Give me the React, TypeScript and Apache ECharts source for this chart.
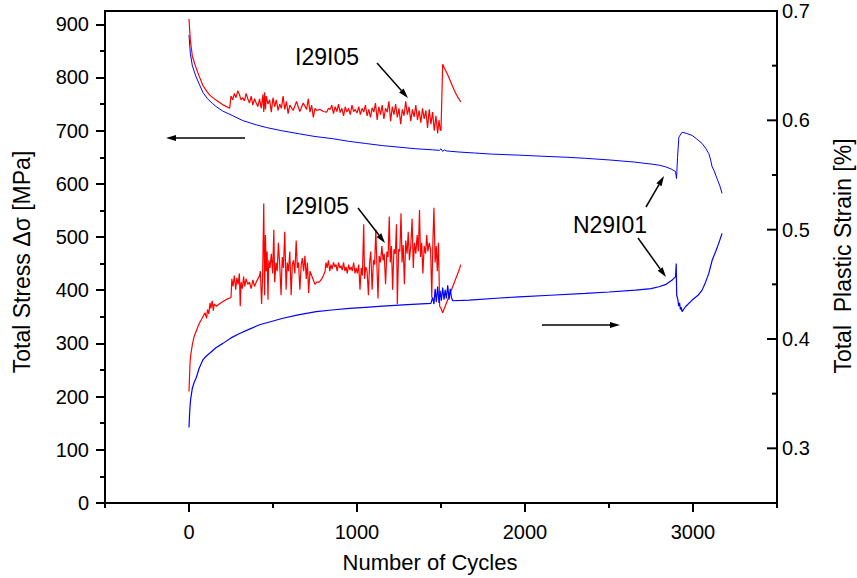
import React, { useEffect, useRef } from "react";
import * as echarts from "echarts";

// ---- tick values ----
const X_MAJOR = [0, 1000, 2000, 3000];
const X_MINOR = [-500, 500, 1500, 2500, 3500];
const YL_MAJOR = [0, 100, 200, 300, 400, 500, 600, 700, 800, 900];
const YL_MINOR = [50, 150, 250, 350, 450, 550, 650, 750, 850];
const YR_MAJOR = [0.3, 0.4, 0.5, 0.6, 0.7];
const YR_MINOR = [0.35, 0.45, 0.55, 0.65];

// ---- I29I05 total stress [MPa] ----
const I29I05_STRESS: number[][] = [
  [0, 910], [8, 870], [20, 840], [40, 820], [60, 803], [83, 785], [110, 772], [130, 765], [163, 757], [200, 749], [242, 742],
  [250, 765], [260, 758], [270, 770], [280, 762], [290, 775], [300, 768], [310, 758], [320, 762], [330, 756], [340, 770],
  [350, 760], [360, 752], [370, 765], [380, 748], [390, 760], [400, 752], [410, 745], [420, 760], [430, 742], [440, 768],
  [445, 735], [450, 772], [455, 740], [460, 765], [470, 750], [480, 758], [490, 735], [500, 762], [510, 745], [520, 758],
  [530, 738], [540, 750], [550, 742], [560, 765], [570, 740], [580, 755], [590, 732], [600, 748], [620, 738], [640, 755],
  [650, 745], [660, 736], [680, 752], [700, 740], [710, 760], [720, 735], [730, 748], [740, 725], [750, 742], [760, 738],
  [780, 740], [800, 736], [820, 735], [830, 742], [840, 740], [850, 748], [860, 732], [870, 745], [880, 736], [890, 750],
  [900, 734], [910, 742], [920, 728], [930, 745], [940, 735], [950, 742], [960, 730], [970, 748], [980, 736], [990, 740],
  [1000, 733], [1010, 745], [1020, 730], [1030, 742], [1040, 735], [1050, 748], [1060, 728], [1070, 740], [1080, 725],
  [1090, 743], [1100, 735], [1110, 752], [1120, 720], [1130, 745], [1140, 730], [1150, 748], [1160, 722], [1170, 742],
  [1180, 735], [1190, 755], [1200, 718], [1210, 745], [1220, 730], [1230, 750], [1240, 725], [1250, 742], [1260, 712],
  [1270, 740], [1280, 728], [1290, 755], [1300, 730], [1310, 745], [1320, 718], [1330, 740], [1340, 726], [1350, 748],
  [1360, 720], [1370, 738], [1380, 715], [1390, 742], [1400, 722], [1410, 738], [1420, 705], [1430, 740], [1440, 712],
  [1450, 735], [1460, 700], [1470, 728], [1480, 695], [1488, 720], [1495, 702], [1500, 700],
  [1510, 825], [1520, 818], [1540, 805], [1560, 790], [1580, 775], [1600, 763], [1618, 754],
];

// ---- N29I01 total stress [MPa] ----
const N29I01_STRESS: number[][] = [
  [0, 880], [8, 845], [20, 822], [40, 803], [63, 786], [83, 772], [110, 760], [140, 751], [163, 745], [200, 737],
  [261, 728], [320, 719], [400, 711], [460, 706], [550, 700], [658, 694], [750, 689], [855, 685], [950, 680],
  [1050, 676], [1150, 672], [1250, 669], [1350, 666], [1450, 664], [1490, 663], [1500, 666], [1510, 661], [1520, 664],
  [1530, 662], [1600, 660], [1700, 658], [1800, 656], [1965, 654], [2100, 652], [2250, 650], [2361, 648], [2500, 645],
  [2650, 641], [2757, 637], [2800, 635], [2837, 632], [2870, 628], [2896, 623], [2902, 610], [2908, 650], [2916, 688],
  [2935, 697], [2960, 695], [2995, 691], [3020, 685], [3054, 676], [3075, 667], [3094, 657], [3105, 645], [3114, 632],
  [3125, 625], [3143, 610], [3160, 596], [3173, 582],
];

// ---- I29I05 total plastic strain [%] ----
const I29I05_STRAIN: number[][] = [
  [0, 0.352], [3, 0.365], [6, 0.378], [10, 0.385], [20, 0.395], [30, 0.402], [45, 0.408], [60, 0.414], [75, 0.418],
  [85, 0.421], [95, 0.424], [105, 0.419], [110, 0.427], [118, 0.423], [125, 0.433], [130, 0.428], [138, 0.435],
  [145, 0.426], [150, 0.432], [163, 0.430], [180, 0.432], [200, 0.434], [220, 0.436], [250, 0.438],
  [255, 0.455], [262, 0.448], [270, 0.458], [278, 0.445], [285, 0.456], [292, 0.45], [300, 0.46], [305, 0.43],
  [310, 0.452], [318, 0.446], [325, 0.457], [332, 0.448], [340, 0.455], [350, 0.45], [360, 0.452], [370, 0.446],
  [380, 0.454], [390, 0.448], [400, 0.452], [410, 0.455], [420, 0.458], [425, 0.462], [432, 0.432], [438, 0.456],
  [445, 0.524], [450, 0.44], [455, 0.495], [460, 0.462], [465, 0.48], [470, 0.436], [475, 0.472], [482, 0.465],
  [490, 0.478], [498, 0.46], [505, 0.5], [510, 0.452], [518, 0.47], [525, 0.462], [532, 0.488], [540, 0.468],
  [548, 0.44], [555, 0.475], [562, 0.465], [570, 0.498], [578, 0.445], [585, 0.47], [592, 0.462], [600, 0.48],
  [608, 0.44], [615, 0.468], [622, 0.472], [630, 0.46], [638, 0.49], [645, 0.465], [652, 0.47], [660, 0.445],
  [668, 0.468], [675, 0.474], [682, 0.462], [690, 0.476], [698, 0.455], [705, 0.47], [712, 0.442], [720, 0.462],
  [730, 0.458], [740, 0.454], [750, 0.45], [760, 0.452], [775, 0.452], [790, 0.455], [800, 0.458], [810, 0.462],
  [815, 0.47], [822, 0.465], [830, 0.472], [838, 0.462], [845, 0.468], [852, 0.464], [860, 0.47], [868, 0.466],
  [875, 0.468], [882, 0.462], [890, 0.47], [898, 0.465], [905, 0.467], [912, 0.463], [920, 0.47], [928, 0.462],
  [935, 0.466], [942, 0.46], [950, 0.468], [958, 0.463], [965, 0.466], [972, 0.462], [980, 0.47], [988, 0.46],
  [995, 0.465], [1002, 0.46], [1010, 0.468], [1018, 0.445], [1025, 0.465], [1032, 0.458], [1040, 0.505],
  [1045, 0.455], [1052, 0.466], [1060, 0.462], [1068, 0.44], [1075, 0.47], [1082, 0.48], [1090, 0.445],
  [1098, 0.472], [1105, 0.468], [1112, 0.5], [1118, 0.47], [1125, 0.437], [1132, 0.476], [1140, 0.47],
  [1148, 0.485], [1155, 0.472], [1162, 0.478], [1170, 0.45], [1178, 0.48], [1185, 0.475], [1192, 0.512],
  [1198, 0.47], [1205, 0.485], [1212, 0.445], [1220, 0.482], [1228, 0.478], [1235, 0.505], [1240, 0.432],
  [1248, 0.482], [1255, 0.48], [1262, 0.515], [1268, 0.47], [1275, 0.486], [1282, 0.45], [1290, 0.49],
  [1298, 0.478], [1305, 0.498], [1312, 0.472], [1320, 0.485], [1328, 0.51], [1335, 0.465], [1342, 0.488],
  [1350, 0.478], [1358, 0.495], [1365, 0.48], [1372, 0.518], [1378, 0.475], [1385, 0.488], [1392, 0.46],
  [1400, 0.485], [1408, 0.478], [1415, 0.495], [1422, 0.48], [1430, 0.488], [1438, 0.482], [1445, 0.438],
  [1452, 0.49], [1458, 0.52], [1465, 0.47], [1472, 0.485], [1478, 0.462], [1485, 0.488], [1492, 0.43],
  [1500, 0.428], [1510, 0.424], [1530, 0.432], [1550, 0.44], [1570, 0.448], [1590, 0.456], [1605, 0.462],
  [1618, 0.468],
];

// ---- N29I01 total plastic strain [%] ----
const N29I01_STRAIN: number[][] = [
  [0, 0.319], [3, 0.33], [6, 0.338], [10, 0.345], [20, 0.355], [30, 0.36], [44, 0.365], [60, 0.373], [83, 0.381],
  [100, 0.384], [123, 0.387], [160, 0.392], [202, 0.396], [250, 0.401], [301, 0.405], [360, 0.409], [420, 0.413],
  [490, 0.416], [559, 0.419], [650, 0.422], [757, 0.425], [850, 0.4265], [955, 0.428], [1050, 0.429], [1153, 0.43],
  [1300, 0.4315], [1440, 0.4326], [1450, 0.438], [1458, 0.432], [1465, 0.446], [1472, 0.434], [1480, 0.448],
  [1488, 0.433], [1495, 0.444], [1502, 0.435], [1510, 0.447], [1518, 0.436], [1525, 0.445], [1532, 0.437],
  [1540, 0.449], [1548, 0.436], [1555, 0.446], [1562, 0.438], [1570, 0.435], [1669, 0.4356], [1850, 0.4375],
  [1965, 0.4386], [2150, 0.44], [2361, 0.4417], [2500, 0.443], [2658, 0.4447], [2750, 0.446], [2797, 0.4478],
  [2840, 0.45], [2876, 0.4539], [2896, 0.457], [2900, 0.469], [2903, 0.44], [2910, 0.436], [2915, 0.43],
  [2920, 0.433], [2925, 0.427], [2930, 0.429], [2935, 0.425], [2955, 0.4295], [2995, 0.4356], [3030, 0.44],
  [3054, 0.4447], [3075, 0.452], [3094, 0.46], [3114, 0.472], [3135, 0.48], [3153, 0.4875], [3173, 0.4966],
];

const FONT = "'Liberation Sans', Arial, Helvetica, sans-serif";

function arrow(x1: number, y1: number, x2: number, y2: number) {
  const ang = Math.atan2(y2 - y1, x2 - x1);
  const L = 10;
  const W = 3;
  const bx = x2 - L * Math.cos(ang);
  const by = y2 - L * Math.sin(ang);
  const px = -Math.sin(ang) * W;
  const py = Math.cos(ang) * W;
  return [
    { type: "line", z: 100, shape: { x1, y1, x2: bx, y2: by }, style: { stroke: "#000", lineWidth: 1.5 } },
    {
      type: "polygon", z: 100,
      shape: { points: [[x2, y2], [bx + px, by + py], [bx - px, by - py]] },
      style: { fill: "#000" },
    },
  ];
}

function text(x: number, y: number, t: string, size: number, rotation = 0) {
  return {
    type: "text",
    x,
    y,
    rotation,
    z: 100,
    style: { text: t, font: `${size}px ${FONT}`, fill: "#000", align: "center", verticalAlign: "middle" },
  };
}

export default function App() {
  const ref = useRef<HTMLDivElement>(null);
  useEffect(() => {
    if (!ref.current) return;
    const chart = echarts.init(ref.current, null, { renderer: "svg" });
    const black = { color: "#000", width: 2 };
    const label = { color: "#000", fontSize: 20, fontFamily: FONT };
    const baseGraphic: any[] = [
      text(22, 262, "Total Stress \u0394\u03c3 [MPa]", 23, Math.PI / 2),
      text(843, 256, "Total  Plastic Strain [%]", 23, Math.PI / 2),
      text(430, 562, "Number of Cycles", 22),
      text(327, 57, "I29I05", 23),
      text(317, 206, "I29I05", 23),
      text(610, 225, "N29I01", 23),
      ...arrow(377, 63, 408, 98),
      ...arrow(358, 208, 385, 243),
      ...arrow(646, 207, 664, 176),
      ...arrow(638, 238, 666, 277),
      ...arrow(245, 138, 166, 138),
      ...arrow(542, 325, 620, 325),
    ];
    const option: any = {
      animation: false,
      backgroundColor: "#fff",
      grid: { left: 105, right: 80, top: 11, bottom: 75, show: true, borderColor: "#000", borderWidth: 2 },
      xAxis: [
        {
          type: "value", min: -500, max: 3500, position: "bottom",
          axisLine: { show: true, onZero: false, lineStyle: black },
          axisTick: { show: true, customValues: X_MAJOR, length: 9, lineStyle: black },
          axisLabel: { ...label, customValues: X_MAJOR, margin: 19, formatter: (v: number) => String(v) },
          splitLine: { show: false },
        },
        {
          type: "value", min: -500, max: 3500, position: "bottom",
          axisLine: { show: false, onZero: false },
          axisTick: { show: true, customValues: X_MINOR, length: 5, lineStyle: black },
          axisLabel: { show: false },
          splitLine: { show: false },
        },
      ],
      yAxis: [
        {
          type: "value", min: 0, max: 925, position: "left",
          axisLine: { show: true, onZero: false, lineStyle: black },
          axisTick: { show: true, customValues: YL_MAJOR, length: 9, lineStyle: black },
          axisLabel: { ...label, customValues: YL_MAJOR, margin: 16, formatter: (v: number) => String(v) },
          splitLine: { show: false },
        },
        {
          type: "value", min: 0, max: 925, position: "left",
          axisLine: { show: false, onZero: false },
          axisTick: { show: true, customValues: YL_MINOR, length: 5, lineStyle: black },
          axisLabel: { show: false },
          splitLine: { show: false },
        },
        {
          type: "value", min: 0.25, max: 0.7, position: "right",
          axisLine: { show: true, onZero: false, lineStyle: black },
          axisTick: { show: false },
          axisLabel: { ...label, customValues: YR_MAJOR, margin: 5, formatter: (v: number) => v.toFixed(1) },
          splitLine: { show: false },
        },
      ],
      series: [
        {
          name: "N29I01 stress", type: "line", xAxisIndex: 0, yAxisIndex: 0, data: N29I01_STRESS,
          showSymbol: false, symbol: "none", lineStyle: { color: "#0000ff", width: 1 }, z: 2,
        },
        {
          name: "I29I05 stress", type: "line", xAxisIndex: 0, yAxisIndex: 0, data: I29I05_STRESS,
          showSymbol: false, symbol: "none", lineStyle: { color: "#ff0000", width: 1.2 }, z: 3,
        },
        {
          name: "I29I05 strain", type: "line", xAxisIndex: 0, yAxisIndex: 2, data: I29I05_STRAIN,
          showSymbol: false, symbol: "none", lineStyle: { color: "#ff0000", width: 1.2 }, z: 2,
        },
        {
          name: "N29I01 strain", type: "line", xAxisIndex: 0, yAxisIndex: 2, data: N29I01_STRAIN,
          showSymbol: false, symbol: "none", lineStyle: { color: "#0000ff", width: 1.2 }, z: 3,
        },
      ],
      graphic: baseGraphic,
    };
    chart.setOption(option);

    // inward ticks of the right (strain) axis, positioned through the axis scale
    const xRight = chart.convertToPixel({ xAxisIndex: 0 }, 3500) as unknown as number;
    const tick = (v: number, len: number) => {
      const y = chart.convertToPixel({ yAxisIndex: 2 }, v) as unknown as number;
      return {
        type: "line", z: 100,
        shape: { x1: xRight - len, y1: y, x2: xRight, y2: y },
        style: { stroke: "#000", lineWidth: 2 },
      };
    };
    const ticks = [...YR_MAJOR.map((v) => tick(v, 10)), ...YR_MINOR.map((v) => tick(v, 5))];
    chart.setOption({ graphic: [...baseGraphic, ...ticks] });

    return () => chart.dispose();
  }, []);
  return <div ref={ref} style={{ width: 857, height: 578, position: "absolute", left: 0, top: 0 }} />;
}
